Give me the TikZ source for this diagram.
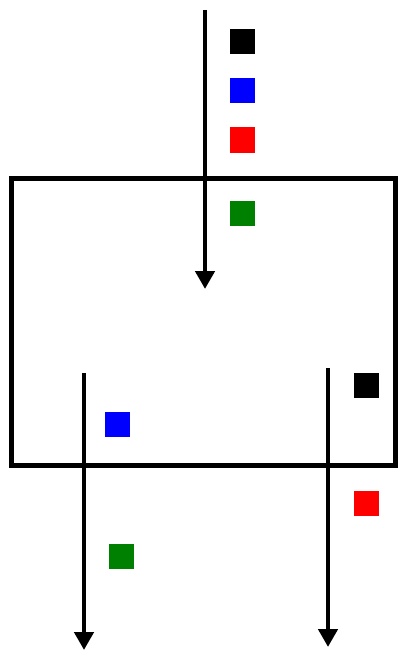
\documentclass[tikz,border=0pt]{standalone}
\usetikzlibrary{arrows.meta}
\definecolor{tokgreen}{RGB}{0,128,0}
\tikzset{
  token/.style={fill=#1, draw=none, minimum size=25pt, inner sep=0pt},
  flow/.style={line width=4.5pt, -{Triangle[width=19pt,length=18pt]}}
}
\begin{document}
\begin{tikzpicture}[x=1pt,y=-1pt]
  \useasboundingbox (0,0) rectangle (397,650);
  \node[draw, line width=5pt, minimum width=384pt, minimum height=287pt, inner sep=0pt] (box) at (203,321.5) {};

  \coordinate (inTop) at (205,10);
  \coordinate (inEnd) at (205,289);
  \coordinate (outLtop) at (84,373);
  \coordinate (outLend) at (84,650);
  \coordinate (outRtop) at (328,368);
  \coordinate (outRend) at (328,647);
  \draw[flow] (inTop) -- (inEnd);
  \draw[flow] (outLtop) -- (outLend);
  \draw[flow] (outRtop) -- (outRend);

  \node[token=black] (inK) at (242,42) {};
  \node[token=blue] (inB) at (242,91) {};
  \node[token=red] (inR) at (242,140) {};
  \node[token=tokgreen] (inG) at (242,213) {};

  \node[token=blue] (leftB) at (117,424) {};
  \node[token=tokgreen] (leftG) at (121,556) {};

  \node[token=black] (rightK) at (366,385) {};
  \node[token=red] (rightR) at (366,503) {};
\end{tikzpicture}
\end{document}
